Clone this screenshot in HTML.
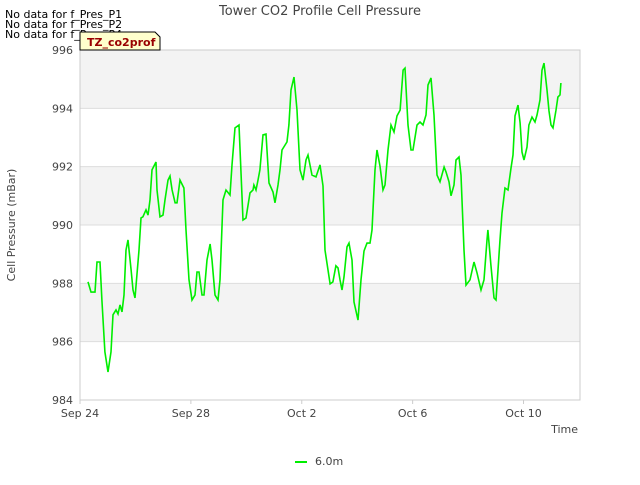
<!DOCTYPE html>
<html><head><meta charset="utf-8"><style>
body{margin:0;background:#fff;font-family:"Liberation Sans","DejaVu Sans",sans-serif;}
svg text{font-family:"DejaVu Sans","Liberation Sans",sans-serif;}
</style></head><body>
<svg id="chart" width="640" height="480" viewBox="0 0 640 480" xmlns="http://www.w3.org/2000/svg">
<rect width="640" height="480" fill="#fff"/>
<g id="bands"></g>
<g id="grid"></g>
<rect x="80" y="50" width="500" height="350" fill="none" stroke="#ccc"/>
<g id="yticks"></g>
<g id="xticks"></g>
<path id="series" fill="none" stroke="#00ee00" stroke-width="1.6"/>
<text x="320" y="15" text-anchor="middle" font-size="13" fill="#444">Tower CO2 Profile Cell Pressure</text>
<text x="5" y="18" font-size="11" fill="#000">No data for f_Pres_P1</text>
<text x="5" y="28" font-size="11" fill="#000">No data for f_Pres_P2</text>
<text x="5" y="38" font-size="11" fill="#000">No data for f_Pres_P4</text>
<g>
<path d="M80,32 H155 L160,37 V50 H80 Z" fill="#ffffcc" stroke="#000" stroke-width="1"/>
<text x="87" y="46" font-size="11" font-weight="bold" fill="#990000">TZ_co2prof</text>
</g>
<text x="15" y="225" transform="rotate(-90 15 225)" text-anchor="middle" font-size="11" fill="#444">Cell Pressure (mBar)</text>
<text x="578" y="433" text-anchor="end" font-size="11" fill="#444">Time</text>
<g>
<line x1="295" y1="462" x2="307" y2="462" stroke="#00ee00" stroke-width="2"/>
<text x="315" y="465" font-size="11" fill="#444">6.0m</text>
</g>
</svg>
<script>
const hours=[6.9,9.5,13.0,14.7,17.3,19.0,21.6,24.2,26.8,28.6,31.2,32.9,34.6,36.4,38.1,39.8,41.6,44.2,45.9,47.6,51.1,52.8,54.5,57.1,58.9,60.6,62.3,65.8,66.7,69.3,71.9,73.6,76.2,77.9,79.7,82.3,84.0,86.6,90.0,91.8,94.4,97.0,99.6,101.3,103.0,105.6,107.4,110.0,112.6,114.3,116.9,119.5,121.2,123.8,126.4,129.9,131.6,134.2,137.7,141.1,143.7,147.2,149.8,150.6,152.4,154.1,155.8,158.4,161.0,163.6,167.1,168.8,171.4,173.2,174.9,179.2,180.9,182.7,185.3,187.9,190.5,193.1,195.7,197.4,200.9,204.3,207.8,210.4,212.1,216.5,219.0,221.6,223.4,225.1,226.8,228.6,231.2,232.9,235.5,237.2,240.7,243.3,245.9,248.5,251.1,252.8,255.4,257.1,259.7,262.3,264.1,266.7,269.3,271.9,274.5,277.1,279.7,281.4,284.0,286.6,288.3,291.8,294.4,297.0,299.6,301.3,303.9,306.5,309.1,311.7,315.2,316.9,319.5,321.2,323.8,325.5,328.1,329.9,332.5,334.2,337.7,341.1,343.7,347.2,349.8,352.4,353.2,355.8,358.4,360.2,363.6,365.4,368.0,370.6,373.2,374.9,376.6,379.2,381.0,382.7,384.4,387.0,388.7,391.3,393.9,395.7,398.3,400.0,401.7,404.3,406.1,407.8,409.5,412.1,413.8,415.6,416.4];
const pressure=[988.05,987.70,987.70,988.73,988.73,987.43,985.65,984.96,985.65,986.92,987.09,986.95,987.26,987.02,987.60,989.14,989.49,988.46,987.77,987.50,989.14,990.24,990.28,990.52,990.34,990.86,991.89,992.16,991.20,990.28,990.34,990.86,991.54,991.68,991.20,990.76,990.76,991.54,991.27,989.83,988.12,987.43,987.60,988.39,988.39,987.60,987.60,988.80,989.35,988.80,987.60,987.43,988.12,990.86,991.20,991.03,992.06,993.33,993.43,990.17,990.24,991.10,991.20,991.37,991.20,991.54,991.89,993.09,993.12,991.44,991.13,990.76,991.37,991.89,992.57,992.85,993.43,994.63,995.07,993.94,991.89,991.54,992.23,992.40,991.71,991.65,992.06,991.34,989.14,987.98,988.05,988.60,988.53,988.12,987.77,988.22,989.25,989.38,988.80,987.36,986.74,988.12,989.11,989.38,989.38,989.83,991.89,992.57,992.02,991.20,991.37,992.57,993.43,993.19,993.74,993.94,995.31,995.38,993.43,992.57,992.57,993.43,993.53,993.43,993.77,994.80,995.04,993.77,991.71,991.48,991.99,991.82,991.48,991.00,991.37,992.23,992.33,991.71,989.14,987.94,988.12,988.73,988.36,987.77,988.12,989.49,989.83,988.63,987.50,987.43,989.49,990.41,991.27,991.20,991.95,992.40,993.74,994.11,993.50,992.50,992.23,992.67,993.43,993.70,993.53,993.77,994.29,995.31,995.55,994.63,993.91,993.43,993.33,993.94,994.39,994.46,994.87];
const yTicks=[984,986,988,990,992,994,996];
const xTickDays=[0,4,8,12,16];
const xTickLabels=["Sep 24","Sep 28","Oct 2","Oct 6","Oct 10"];
const X0=80,X1=580,Y0=400,Y1=50,yMin=984,yMax=996,pxPerDay=27.72;
const xs=h=>X0+h/24*pxPerDay;
const ys=v=>Y0-(v-yMin)/(yMax-yMin)*(Y0-Y1);
const NS="http://www.w3.org/2000/svg";
const bands=document.getElementById('bands'),grid=document.getElementById('grid'),yt=document.getElementById('yticks'),xt=document.getElementById('xticks');
for(let i=0;i<yTicks.length-1;i++){
 if(i%2===1){
  const r=document.createElementNS(NS,'rect');
  
  
  r.setAttribute('x',X0);r.setAttribute('width',X1-X0);
  r.setAttribute('y',ys(yTicks[i+1]));r.setAttribute('height',ys(yTicks[i])-ys(yTicks[i+1]));
  r.setAttribute('fill','#f3f3f3');bands.appendChild(r);
 }
}
yTicks.forEach(v=>{
 const l=document.createElementNS(NS,'line');
 
 
 l.setAttribute('x1',X0);l.setAttribute('x2',X1);l.setAttribute('y1',ys(v));l.setAttribute('y2',ys(v));
 l.setAttribute('stroke','#ddd');grid.appendChild(l);
 const t=document.createElementNS(NS,'text');
 
 
 t.setAttribute('x',X0-7);t.setAttribute('y',ys(v)+4);t.setAttribute('text-anchor','end');
 t.setAttribute('font-size','11');t.setAttribute('fill','#444');t.textContent=v;yt.appendChild(t);
});
xTickDays.forEach((d,i)=>{
 const x=X0+d*pxPerDay;
 const l=document.createElementNS(NS,'line');
 
 
 l.setAttribute('x1',x);l.setAttribute('x2',x);l.setAttribute('y1',Y0);l.setAttribute('y2',Y0+4);
 l.setAttribute('stroke','#ccc');xt.appendChild(l);
 const t=document.createElementNS(NS,'text');
 
 
 t.setAttribute('x',x);t.setAttribute('y',Y0+17);t.setAttribute('text-anchor','middle');
 t.setAttribute('font-size','11');t.setAttribute('fill','#444');t.textContent=xTickLabels[i];xt.appendChild(t);
});
let d='';
hours.forEach((h,i)=>{d+=(i?'L':'M')+xs(h).toFixed(1)+','+ys(pressure[i]).toFixed(1);});
document.getElementById('series').setAttribute('d',d);
</script>
</body></html>
